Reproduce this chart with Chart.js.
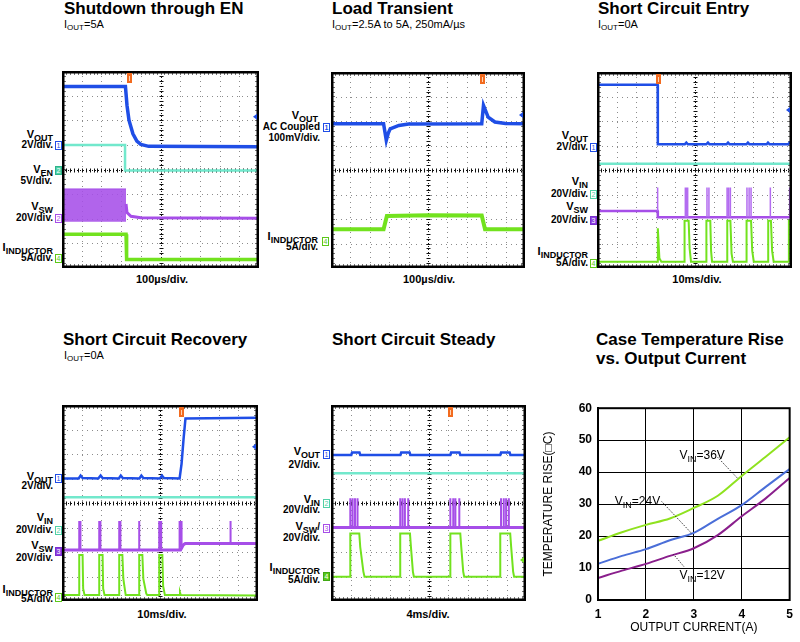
<!DOCTYPE html>
<html>
<head>
<meta charset="utf-8">
<script src="https://cdn.jsdelivr.net/npm/chart.js@4.4.1/dist/chart.umd.min.js"></script>
<style>
  html, body { margin: 0; padding: 0; background: #fff; }
  #page { position: relative; width: 800px; height: 642px; overflow: hidden; font-family: "Liberation Sans", Arial, sans-serif; color: #000; }
  #page canvas { position: absolute; }
  .t { position: absolute; white-space: nowrap; line-height: 1; }
  .ttl { font-size: 17px; font-weight: bold; }
  .sub { font-size: 11px; }
  .sub .s { font-size: 8px; position: relative; top: 2px; }
  .lb { font-size: 10px; font-weight: bold; text-align: right; }
  .lb b { font-size: 11px; }
  .lb .s { font-size: 9px; position: relative; top: 3px; }
  .xl { font-size: 11px; font-weight: bold; width: 200px; text-align: center; }
  .mk { position: absolute; width: 5px; height: 7px; border: 1px solid; font: 7px/7px "Liberation Sans", Arial, sans-serif; text-align: center; }
</style>
</head>
<body>
<div id="page">
  <!-- titles -->
  <div class="t ttl" style="left:64px;top:0px">Shutdown through EN</div>
  <div class="t sub" style="left:64px;top:19px">I<span class="s">OUT</span>=5A</div>
  <div class="t ttl" style="left:332px;top:0px">Load Transient</div>
  <div class="t sub" style="left:332px;top:19px">I<span class="s">OUT</span>=2.5A to 5A, 250mA/µs</div>
  <div class="t ttl" style="left:598px;top:0px">Short Circuit Entry</div>
  <div class="t sub" style="left:598px;top:19px">I<span class="s">OUT</span>=0A</div>
  <div class="t ttl" style="left:63px;top:331px">Short Circuit Recovery</div>
  <div class="t sub" style="left:64px;top:350px">I<span class="s">OUT</span>=0A</div>
  <div class="t ttl" style="left:332px;top:331px">Short Circuit Steady</div>
  <div class="t ttl" style="left:596px;top:331px">Case Temperature Rise</div>
  <div class="t ttl" style="left:596px;top:350px">vs. Output Current</div>

  <!-- panel 1 labels -->
  <div class="t lb" style="right:747px;top:129px"><b>V</b><span class="s">OUT</span></div>
  <div class="t lb" style="right:747px;top:140px">2V/div.</div>
  <div class="mk" style="left:55px;top:141px;border-color:#1f4ee6;color:#1f4ee6">1</div>
  <div class="t lb" style="right:747px;top:164px"><b>V</b><span class="s">EN</span></div>
  <div class="mk" style="left:55px;top:166px;border-color:#2fb38a;background:#4fd0a6;color:#fff">2</div>
  <div class="t lb" style="right:748px;top:176px">5V/div.</div>
  <div class="t lb" style="right:747px;top:201px"><b>V</b><span class="s">SW</span></div>
  <div class="t lb" style="right:747px;top:213px">20V/div.</div>
  <div class="mk" style="left:55px;top:214px;border-color:#a64ee8;color:#a64ee8">2</div>
  <div class="t lb" style="right:747px;top:242px"><b>I</b><span class="s">INDUCTOR</span></div>
  <div class="t lb" style="right:747px;top:253px">5A/div.</div>
  <div class="mk" style="left:55px;top:254px;border-color:#5cc81a;color:#5cc81a">4</div>
  <div class="t xl" style="left:62px;top:274px">100µs/div.</div>

  <!-- panel 2 labels -->
  <div class="t lb" style="right:482px;top:110px"><b>V</b><span class="s">OUT</span></div>
  <div class="t lb" style="right:480px;top:122px">AC Coupled</div>
  <div class="mk" style="left:323px;top:123px;border-color:#1f4ee6;color:#1f4ee6;font-weight:bold">1</div>
  <div class="t lb" style="right:480px;top:133px">100mV/div.</div>
  <div class="t lb" style="right:482px;top:231px"><b>I</b><span class="s">INDUCTOR</span></div>
  <div class="t lb" style="right:482px;top:242px">5A/div.</div>
  <div class="mk" style="left:322px;top:237px;border-color:#5cc81a;color:#5cc81a">4</div>
  <div class="t xl" style="left:329px;top:274px">100µs/div.</div>

  <!-- panel 3 labels -->
  <div class="t lb" style="right:212px;top:130px"><b>V</b><span class="s">OUT</span></div>
  <div class="t lb" style="right:212px;top:142px">2V/div.</div>
  <div class="mk" style="left:590px;top:143px;border-color:#1f4ee6;color:#1f4ee6">1</div>
  <div class="t lb" style="right:212px;top:176px"><b>V</b><span class="s">IN</span></div>
  <div class="t lb" style="right:212px;top:189px">20V/div.</div>
  <div class="mk" style="left:590px;top:190px;border-color:#4fd0a6;color:#4fd0a6">2</div>
  <div class="t lb" style="right:212px;top:201px"><b>V</b><span class="s">SW</span></div>
  <div class="t lb" style="right:212px;top:215px">20V/div.</div>
  <div class="mk" style="left:590px;top:216px;border-color:#7a2fd0;background:#8c3fe0;color:#fff">3</div>
  <div class="t lb" style="right:212px;top:246px"><b>I</b><span class="s">INDUCTOR</span></div>
  <div class="t lb" style="right:212px;top:258px">5A/div.</div>
  <div class="mk" style="left:590px;top:259px;border-color:#5cc81a;color:#5cc81a">4</div>
  <div class="t xl" style="left:597px;top:274px">10ms/div.</div>

  <!-- panel 4 labels -->
  <div class="t lb" style="right:747px;top:471px"><b>V</b><span class="s">OUT</span></div>
  <div class="mk" style="left:55px;top:474px;border-color:#1f4ee6;color:#1f4ee6">1</div>
  <div class="t lb" style="right:747px;top:481px">2V/div.</div>
  <div class="t lb" style="right:747px;top:512px"><b>V</b><span class="s">IN</span></div>
  <div class="t lb" style="right:747px;top:525px">20V/div.</div>
  <div class="mk" style="left:55px;top:526px;border-color:#4fd0a6;color:#4fd0a6">2</div>
  <div class="t lb" style="right:747px;top:540px"><b>V</b><span class="s">SW</span></div>
  <div class="mk" style="left:55px;top:547px;border-color:#7a2fd0;background:#8c3fe0;color:#fff">3</div>
  <div class="t lb" style="right:747px;top:553px">20V/div.</div>
  <div class="t lb" style="right:747px;top:584px"><b>I</b><span class="s">INDUCTOR</span></div>
  <div class="mk" style="left:55px;top:593px;border-color:#5cc81a;color:#5cc81a">4</div>
  <div class="t lb" style="right:747px;top:594px">5A/div.</div>
  <div class="t xl" style="left:62px;top:609px">10ms/div.</div>

  <!-- panel 5 labels -->
  <div class="t lb" style="right:480px;top:446px"><b>V</b><span class="s">OUT</span></div>
  <div class="mk" style="left:323px;top:450px;border-color:#1f4ee6;color:#1f4ee6">1</div>
  <div class="t lb" style="right:480px;top:460px">2V/div.</div>
  <div class="t lb" style="right:480px;top:494px"><b>V</b><span class="s">IN</span></div>
  <div class="mk" style="left:323px;top:499px;border-color:#4fd0a6;color:#4fd0a6">2</div>
  <div class="t lb" style="right:480px;top:505px">20V/div.</div>
  <div class="t lb" style="right:480px;top:521px"><b>V</b><span class="s">SW</span>/</div>
  <div class="mk" style="left:323px;top:524px;border-color:#a64ee8;color:#a64ee8">3</div>
  <div class="t lb" style="right:480px;top:533px">20V/div.</div>
  <div class="t lb" style="right:480px;top:562px"><b>I</b><span class="s">INDUCTOR</span></div>
  <div class="mk" style="left:323px;top:572px;border-color:#3fa812;background:#5cc81a;color:#fff">4</div>
  <div class="t lb" style="right:480px;top:575px">5A/div.</div>
  <div class="t xl" style="left:328px;top:609px">4ms/div.</div>

  <canvas id="p1" width="197" height="197" style="left:62px;top:71px"></canvas>
  <canvas id="p2" width="194" height="196" style="left:331px;top:72px"></canvas>
  <canvas id="p3" width="195" height="196" style="left:597px;top:72px"></canvas>
  <canvas id="p4" width="196" height="196" style="left:62px;top:405px"></canvas>
  <canvas id="p5" width="195" height="196" style="left:331px;top:405px"></canvas>
  <canvas id="p6" width="260" height="247" style="left:540px;top:395px"></canvas>
</div>
<script>
// scope traces, in divisions: x 0..10, y 0..8 (bottom = 0)
var p1Vout = [[0,7.37],[3.22,7.37],[3.3,6.6],[3.4,6.0],[3.6,5.45],[3.8,5.15],[4.0,5.02],[4.4,4.94],[10,4.92]];
var p1Ven = [[0,5.0],[3.2,5.0],[3.2,3.96],[10,3.96]];
var p1SwLow = [[0,1.88],[3.25,1.88]];
var p1SwHigh = [[0,3.21],[3.25,3.21]];
var p1Sw = [[3.25,2.6],[3.3,2.25],[3.5,2.1],[4.0,2.04],[10,2.02]];
var p1Ind = [[0,1.37],[3.25,1.37],[3.28,0.35],[10,0.35]];
var p1Trig = 3.4, p1Level = 6.14;

var p2Vout = [[0,5.89],[2.71,5.89],[2.85,5.21],[2.95,5.5],[3.05,5.68],[3.5,5.82],[4.0,5.88],[7.77,5.89],[7.86,6.64],[8.1,6.16],[8.45,5.96],[9.0,5.9],[10,5.89]];
var p2Ind = [[0,1.58],[2.71,1.58],[2.88,2.12],[5,2.15],[7.77,2.14],[7.94,1.58],[10,1.58]];
var p2Trig = 7.8, p2Level = 6.24;

var p3Vout = [[0,7.48],[3.11,7.48],[3.12,5.05],[4.5,5.05],[4.58,5.12],[4.66,5.05],[5.6,5.05],[5.69,5.12],[5.77,5.05],[6.64,5.05],[6.72,5.12],[6.8,5.05],[7.66,5.05],[7.74,5.12],[7.82,5.05],[8.7,5.05],[8.77,5.12],[8.85,5.05],[9.8,5.05],[9.88,5.12],[10,5.05]];
var p3Vin = [[0,4.26],[10,4.26]];
var p3Sw = [[0,2.33],[3.11,2.33],[3.12,2.07],[10,2.07]];
var p3Spikes = [[3.11,2.33,3.29],[4.53,2.07,3.29],[4.6,2.07,3.29],[4.65,2.07,3.29],[5.64,2.07,3.29],[5.74,2.07,3.29],[6.67,2.07,3.29],[6.75,2.07,3.29],[6.84,2.07,3.29],[7.69,2.07,3.29],[7.8,2.07,3.29],[7.9,2.07,3.29],[8.89,2.07,3.29],[9.88,2.07,3.29],[9.97,2.07,3.29]];
var p3Ind = [[0,0.26],[3.11,0.26],[3.12,1.62],[3.2,0.4],[3.3,0.26],[4.48,0.26],[4.49,1.93],[4.7,1.93],[4.75,0.8],[4.82,0.26],[5.6,0.26],[5.61,1.93],[5.81,1.93],[5.85,0.7],[5.9,0.26],[6.67,0.26],[6.68,1.93],[6.84,1.93],[6.9,0.6],[6.97,0.26],[7.66,0.26],[7.67,1.93],[7.9,1.93],[7.96,0.7],[8.04,0.26],[8.77,0.26],[8.78,1.93],[8.92,1.93],[8.98,0.7],[9.06,0.26],[9.83,0.26],[9.84,1.93],[10,1.93]];
var p3Trig = 3.11, p3Level = 6.45;

var p4Vout = [[0,5.0],[0.85,5.0],[0.95,5.12],[1.05,5.02],[1.85,5.0],[1.97,5.12],[2.07,5.02],[2.9,5.0],[3.0,5.12],[3.1,5.02],[3.95,5.0],[4.05,5.12],[4.15,5.02],[5.0,5.0],[5.1,5.12],[5.2,5.02],[6.0,5.0],[6.1,5.6],[6.2,6.6],[6.3,7.45],[10,7.48]];
var p4Vin = [[0,4.23],[10,4.23]];
var p4Sw = [[0,2.08],[6.05,2.08],[6.2,2.3],[6.29,2.35],[10,2.35]];
var p4Spikes = [[0.88,2.08,3.27],[0.94,2.08,3.27],[1.9,2.08,3.27],[1.96,2.08,3.27],[2.92,2.08,3.27],[2.98,2.08,3.27],[3.94,2.08,3.27],[4.96,2.08,3.27],[5.02,2.08,3.27],[5.06,2.08,3.27],[6.0,2.08,3.27],[6.1,2.2,3.27],[8.6,2.35,3.27]];
var p4Ind = [[0,0.24],[0.87,0.24],[0.88,1.88],[1.05,1.88],[1.08,0.5],[1.15,0.24],[1.89,0.24],[1.9,1.88],[2.07,1.88],[2.1,0.5],[2.17,0.24],[2.91,0.24],[2.92,1.88],[3.08,1.88],[3.13,0.9],[3.25,0.24],[3.93,0.24],[3.94,1.88],[4.1,1.88],[4.15,0.9],[4.3,0.3],[4.35,0.24],[4.95,0.24],[4.96,1.88],[5.12,1.88],[5.16,0.6],[5.25,0.24],[6.0,0.24],[6.02,0.35],[6.06,0.24],[10,0.22]];
var p4Trig = 6.09, p4Level = 6.3;

var p5Vout = [[0,5.96],[1.04,5.96],[1.08,6.06],[1.46,6.06],[1.5,5.96],[3.56,5.96],[3.6,6.06],[4.03,6.06],[4.07,5.96],[6.12,5.96],[6.16,6.06],[6.59,6.06],[6.63,5.96],[8.68,5.96],[8.72,6.06],[9.16,6.06],[9.2,5.96],[10,5.96]];
var p5Vin = [[0,5.21],[10,5.21]];
var p5Sw = [[0,3.0],[10,3.0]];
var p5Spikes = [[0.99,3.0,4.19],[1.11,3.0,4.19],[1.23,3.0,4.19],[1.36,3.0,4.19],[3.55,3.0,4.19],[3.67,3.0,4.19],[3.79,3.0,4.19],[3.96,3.0,4.19],[6.12,3.0,4.19],[6.27,3.0,4.19],[6.38,3.0,4.19],[6.58,3.0,4.19],[8.72,3.0,4.19],[8.86,3.0,4.19],[8.98,3.0,4.19],[9.12,3.0,4.19]];
var p5Ind = [[0,0.99],[0.98,0.99],[0.99,2.76],[1.45,2.76],[1.5,2.2],[1.66,1.2],[1.72,0.99],[3.54,0.99],[3.55,2.76],[4.05,2.76],[4.1,2.2],[4.2,1.2],[4.25,0.99],[6.11,0.99],[6.12,2.76],[6.63,2.76],[6.68,2.2],[6.78,1.2],[6.83,0.99],[8.67,0.99],[8.68,2.76],[9.19,2.76],[9.24,2.2],[9.34,1.2],[9.39,0.99],[10,0.99]];
var p5Trig = 6.12, p5Level = 1.67;

// temperature rise chart
var currentA = [1,1.5,2,2.5,3,3.5,4,4.5,5];
var rise36V = [18.5,21.2,23.5,25.5,28.8,32.6,38.8,44.8,50.9];
var rise24V = [11.3,13.8,15.9,18.7,21.0,25.4,29.7,35.4,41.0];
var rise12V = [6.9,9.2,11.3,13.8,16.2,20.3,26.2,31.8,38.2];
var annotText = ['=36V','=24V','=12V'];
var annotAt = [[2.70,44.1],[1.35,29.75],[2.70,6.7]];
var annotLeader = [[[3.5,44.6],[3.93,37.8]],[[2.33,30.8],[2.95,20.9]],[[2.79,10.5],[2.58,14.2]]];

var BLUE='#1f4ee6', CYAN='#72e8cc', PURPLE='#a64ee8', GREEN='#72e21e', ORANGE='#f26b1f';
var FONT='"Liberation Sans", Arial, sans-serif';

function trace(pts, color, w){
  return {data: pts.map(function(p){return {x:p[0],y:p[1]};}), borderColor: color, borderWidth: w,
          pointRadius: 0, fill: false, tension: 0};
}
function spikes(list, color, w){
  var d = [];
  list.forEach(function(s){ d.push({x:s[0],y:s[1]},{x:s[0],y:s[2]},{x:s[0],y:null}); });
  return {data: d, borderColor: color, borderWidth: w, pointRadius: 0, fill: false, spanGaps: false};
}

var scopeGrid = {
  id: 'scopeGrid',
  beforeDatasetsDraw: function(chart){
    var ctx = chart.ctx, a = chart.chartArea, x = chart.scales.x, y = chart.scales.y;
    ctx.save();
    ctx.lineWidth = 1;
    ctx.strokeStyle = '#8c8c8c';
    ctx.setLineDash([1,4]);
    var i, px, py, v;
    for (i = 1; i < 10; i++) {
      if (i === 5) continue;
      px = Math.round(x.getPixelForValue(i)) + 0.5;
      ctx.beginPath(); ctx.moveTo(px, a.top); ctx.lineTo(px, a.bottom); ctx.stroke();
    }
    for (i = 1; i < 8; i++) {
      if (i === 4) continue;
      py = Math.round(y.getPixelForValue(i)) + 0.5;
      ctx.beginPath(); ctx.moveTo(a.left, py); ctx.lineTo(a.right, py); ctx.stroke();
    }
    var cx = Math.round(x.getPixelForValue(5)) + 0.5, cy = Math.round(y.getPixelForValue(4)) + 0.5;
    ctx.strokeStyle = '#111';
    ctx.setLineDash([1,2]);
    ctx.beginPath(); ctx.moveTo(cx, a.top); ctx.lineTo(cx, a.bottom); ctx.stroke();
    ctx.beginPath(); ctx.moveTo(a.left, cy); ctx.lineTo(a.right, cy); ctx.stroke();
    ctx.setLineDash([]);
    ctx.beginPath();
    for (v = 0.2; v < 10; v += 0.2) {
      px = Math.round(x.getPixelForValue(v)) + 0.5;
      ctx.moveTo(px, cy - 2); ctx.lineTo(px, cy + 2);
    }
    for (v = 0.2; v < 8; v += 0.2) {
      py = Math.round(y.getPixelForValue(v)) + 0.5;
      ctx.moveTo(cx - 2, py); ctx.lineTo(cx + 2, py);
    }
    ctx.stroke();
    ctx.strokeStyle = '#777';
    ctx.beginPath();
    for (v = 0.2; v < 10; v += 0.2) {
      px = Math.round(x.getPixelForValue(v)) + 0.5;
      ctx.moveTo(px, a.top); ctx.lineTo(px, a.top + 4);
      ctx.moveTo(px, a.bottom); ctx.lineTo(px, a.bottom - 4);
    }
    for (v = 0.2; v < 8; v += 0.2) {
      py = Math.round(y.getPixelForValue(v)) + 0.5;
      ctx.moveTo(a.left, py); ctx.lineTo(a.left + 4, py);
      ctx.moveTo(a.right, py); ctx.lineTo(a.right - 4, py);
    }
    ctx.stroke();
    ctx.restore();
  },
  afterDraw: function(chart, args, opts){
    var ctx = chart.ctx, a = chart.chartArea;
    ctx.save();
    ctx.lineWidth = 2.5;
    ctx.strokeStyle = '#000';
    ctx.strokeRect(a.left + 1.25, a.top + 1.25, a.right - a.left - 2.5, a.bottom - a.top - 2.5);
    var tx = Math.round(chart.scales.x.getPixelForValue(opts.trig));
    ctx.fillStyle = ORANGE;
    ctx.fillRect(tx - 2, a.top + 2, 5, 10);
    ctx.fillStyle = '#ffd2b0';
    ctx.fillRect(tx, a.top + 5, 1, 5);
    // trigger level arrow at the right edge
    var ly = chart.scales.y.getPixelForValue(opts.level);
    ctx.fillStyle = opts.levelColor;
    ctx.beginPath();
    ctx.moveTo(a.right - 6, ly); ctx.lineTo(a.right - 2, ly - 3); ctx.lineTo(a.right - 2, ly + 3);
    ctx.closePath(); ctx.fill();
    ctx.restore();
  }
};

function makeScope(id, datasets, trig, level, levelColor){
  return new Chart(document.getElementById(id), {
    type: 'line',
    data: {datasets: datasets},
    options: {
      responsive: false, animation: false, events: [],
      layout: {padding: 0},
      scales: {
        x: {type: 'linear', min: 0, max: 10, display: false},
        y: {type: 'linear', min: 0, max: 8, display: false}
      },
      plugins: {legend: {display: false}, tooltip: {enabled: false},
                scopeGrid: {trig: trig, level: level, levelColor: levelColor}}
    },
    plugins: [scopeGrid]
  });
}

var swLow = trace(p1SwLow, PURPLE, 0);
var swHigh = trace(p1SwHigh, PURPLE, 1);
swHigh.fill = '-1';
swHigh.backgroundColor = 'rgba(166,78,232,0.88)';

makeScope('p1', [
  trace(p1Ven, CYAN, 2.5),
  trace(p1Vout, BLUE, 3.5),
  swLow, swHigh,
  trace(p1Sw, PURPLE, 3),
  trace(p1Ind, GREEN, 3.5)
], p1Trig, p1Level, BLUE);

makeScope('p2', [
  trace(p2Vout, BLUE, 3.5),
  trace(p2Ind, GREEN, 4)
], p2Trig, p2Level, BLUE);

makeScope('p3', [
  trace(p3Vout, BLUE, 2.5),
  trace(p3Vin, CYAN, 2.5),
  spikes(p3Spikes, '#b36cf0', 1.5),
  trace(p3Sw, PURPLE, 2.5),
  trace(p3Ind, GREEN, 2)
], p3Trig, p3Level, BLUE);

makeScope('p4', [
  trace(p4Vout, BLUE, 2.5),
  trace(p4Vin, CYAN, 2.5),
  spikes(p4Spikes, '#a64ee8', 2),
  trace(p4Sw, PURPLE, 3),
  trace(p4Ind, GREEN, 2)
], p4Trig, p4Level, BLUE);

makeScope('p5', [
  trace(p5Vout, BLUE, 2.5),
  trace(p5Vin, CYAN, 2.5),
  spikes(p5Spikes, '#a64ee8', 2),
  trace(p5Sw, PURPLE, 3),
  trace(p5Ind, GREEN, 2)
], p5Trig, p5Level, GREEN);

// temperature chart
var tempFrame = {
  id: 'tempFrame',
  afterDatasetsDraw: function(chart){
    var ctx = chart.ctx, x = chart.scales.x, y = chart.scales.y, a = chart.chartArea;
    ctx.save();
    ctx.strokeStyle = '#000';
    ctx.lineWidth = 1;
    ctx.setLineDash([1,1.5]);
    annotLeader.forEach(function(l){
      ctx.beginPath();
      ctx.moveTo(x.getPixelForValue(l[0][0]), y.getPixelForValue(l[0][1]));
      ctx.lineTo(x.getPixelForValue(l[1][0]), y.getPixelForValue(l[1][1]));
      ctx.stroke();
    });
    ctx.setLineDash([]);
    ctx.fillStyle = '#000';
    ctx.textBaseline = 'alphabetic';
    annotText.forEach(function(t, i){
      var px = x.getPixelForValue(annotAt[i][0]), py = y.getPixelForValue(annotAt[i][1]);
      ctx.font = '12px ' + FONT;
      ctx.fillText('V', px, py);
      var w = ctx.measureText('V').width;
      ctx.font = '9px ' + FONT;
      ctx.fillText('IN', px + w, py + 3);
      var w2 = ctx.measureText('IN').width;
      ctx.font = '12px ' + FONT;
      ctx.fillText(t, px + w + w2, py);
    });
    ctx.lineWidth = 2;
    ctx.strokeRect(a.left, a.top, a.right - a.left, a.bottom - a.top);
    ctx.restore();
  }
};

function curve(vals, color){
  return {data: currentA.map(function(c, i){ return {x: c, y: vals[i]}; }),
          borderColor: color, borderWidth: 2, pointRadius: 0, fill: false,
          tension: 0.3, cubicInterpolationMode: 'monotone'};
}

new Chart(document.getElementById('p6'), {
  type: 'line',
  data: {datasets: [curve(rise36V, '#8fe21f'), curve(rise24V, '#4a6ed8'), curve(rise12V, '#8a1f8c')]},
  options: {
    responsive: false, animation: false, events: [],
    layout: {padding: {top: 10, right: 7, left: 0, bottom: 0}},
    scales: {
      x: {type: 'linear', min: 1, max: 5,
          ticks: {stepSize: 1, color: '#000', padding: 7, font: {family: FONT, size: 12, weight: 'bold'}},
          grid: {color: '#000', lineWidth: 1, drawTicks: false},
          border: {color: '#000', width: 2},
          title: {display: true, text: 'OUTPUT CURRENT(A)', color: '#000', font: {family: FONT, size: 12}, padding: {top: 0, bottom: 7}},
          afterFit: function(s){ s.height = 42; }},
      y: {type: 'linear', min: 0, max: 60,
          ticks: {stepSize: 10, color: '#000', padding: 6, font: {family: FONT, size: 12, weight: 'bold'}},
          grid: {color: '#000', lineWidth: 1, drawTicks: false},
          border: {color: '#000', width: 2},
          title: {display: true, text: 'TEMPERATURE RISE(□C)', color: '#000', font: {family: FONT, size: 12}, padding: {top: 1.5, bottom: 0}},
          afterFit: function(s){ s.width = 58; }}
    },
    plugins: {legend: {display: false}, tooltip: {enabled: false}}
  },
  plugins: [tempFrame]
});
</script>
</body>
</html>
